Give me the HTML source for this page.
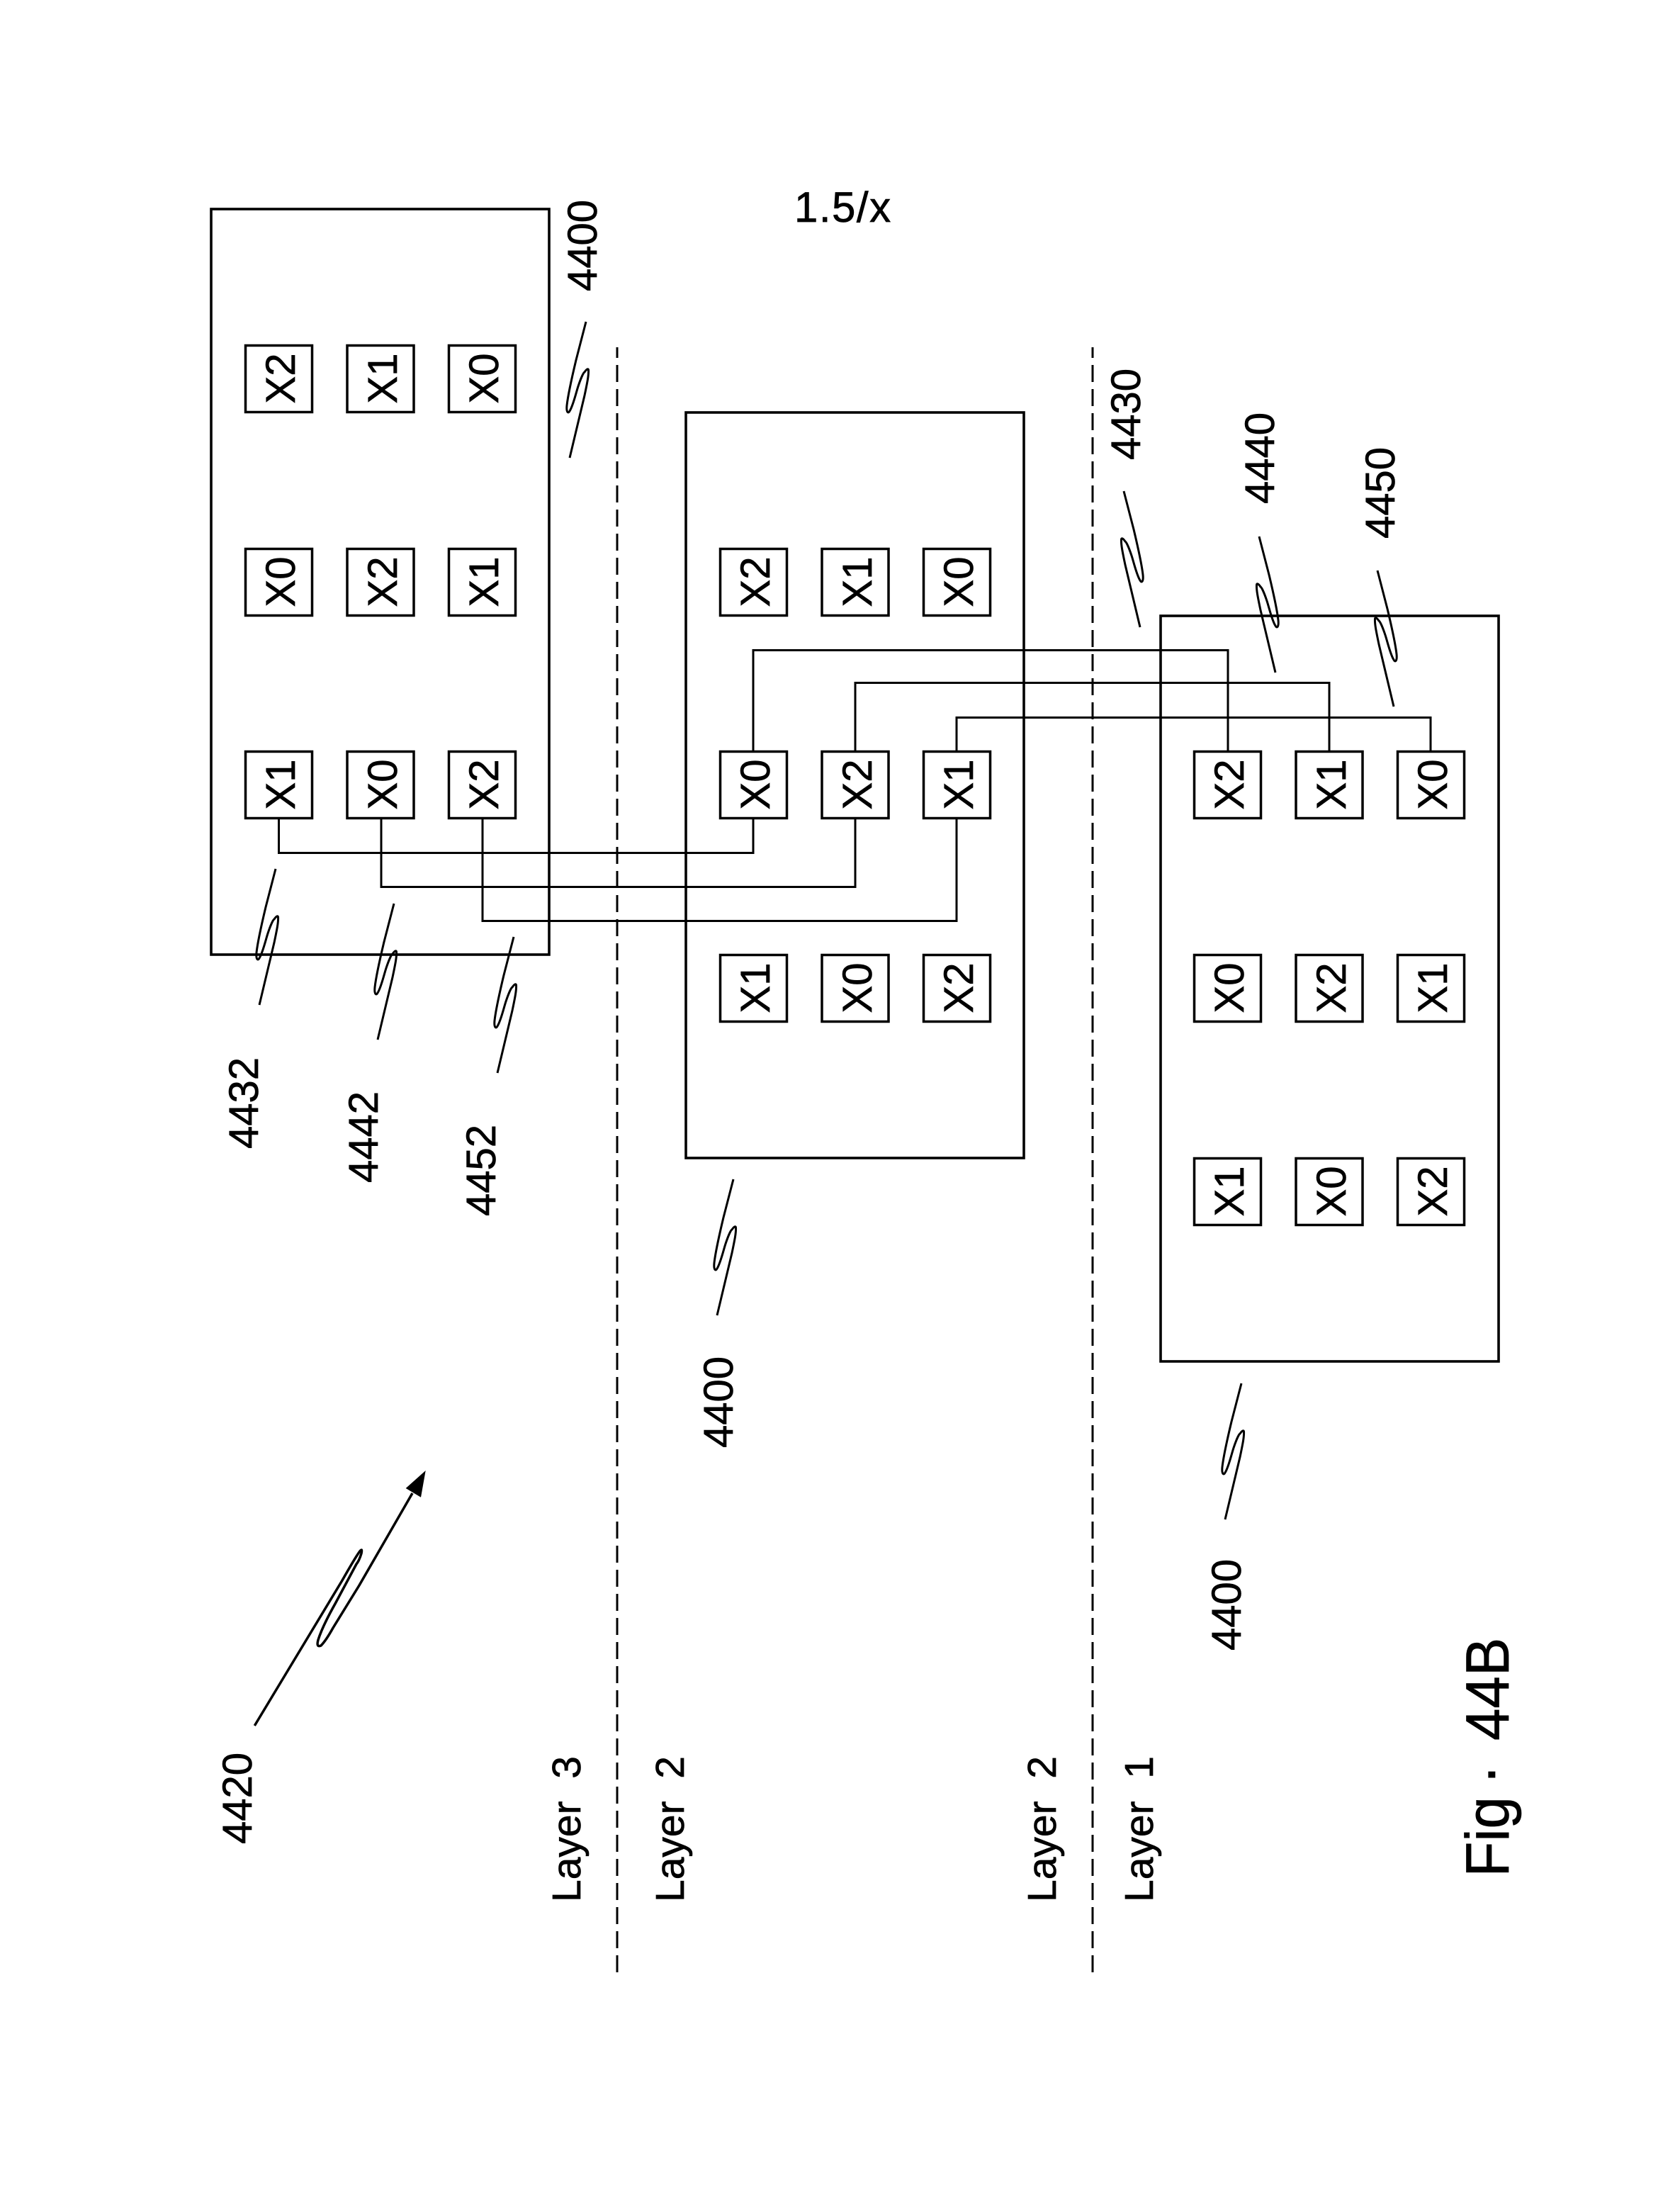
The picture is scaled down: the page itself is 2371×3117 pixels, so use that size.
<!DOCTYPE html>
<html><head><meta charset="utf-8"><style>
html,body{margin:0;padding:0;background:#fff}
svg{display:block}
text{font-family:"Liberation Sans",sans-serif;fill:#000;white-space:pre;stroke:#000;stroke-width:.7}
.t{font-size:58px}.c{font-size:58px;text-anchor:middle}.l{font-size:57px}
.b{fill:none;stroke:#000;stroke-width:3;shape-rendering:crispEdges}
.o{fill:none;stroke:#000;stroke-width:3.6}
.k{fill:none;stroke:#000;stroke-width:3.5}
.d{fill:none;stroke:#000;stroke-width:3;stroke-dasharray:24 10;shape-rendering:crispEdges}
.s{fill:none;stroke:#000;stroke-width:3;stroke-linejoin:round}
</style></head><body>
<svg xmlns="http://www.w3.org/2000/svg" width="2371" height="3117" viewBox="0 0 2371 3117">
<rect width="2371" height="3117" fill="#fff"/>
<defs><path id="q" class="s" d="M0,0 L-14,54 C-19,75 -25,100 -27,118 C-28,128 -25,130 -23,126 C-18,118 -14,100 -11,91 C-8,82 -4,72 -2,71 C0,68 3,65 3.5,68 C4,75 2,85 -2,104 L-23,192"/></defs>

<!-- dashed layer lines -->
<path class="d" d="M871,2783V490"/>
<path class="d" d="M1542,2783V490"/>

<!-- package boxes -->
<rect class="o" x="298" y="295" width="477" height="1052"/>
<rect class="o" x="968" y="582" width="477" height="1052"/>
<rect class="o" x="1638" y="869" width="477" height="1052"/>

<!-- wires -->
<path class="b" d="M393.5,1156V1203.5H1063V1156"/>
<path class="b" d="M538,1156V1251.5H1207V1156"/>
<path class="b" d="M681,1156V1299.5H1350V1156"/>
<path class="b" d="M1063,1059V917.5H1733V1059"/>
<path class="b" d="M1207,1059V963.5H1876V1059"/>
<path class="b" d="M1350,1059V1012.5H2019V1059"/>

<!-- top box cells -->
<g class="k">
<rect x="346.5" y="487.5" width="94" height="94"/><rect x="490" y="487.5" width="94" height="94"/><rect x="633.5" y="487.5" width="94" height="94"/>
<rect x="346.5" y="774.5" width="94" height="94"/><rect x="490" y="774.5" width="94" height="94"/><rect x="633.5" y="774.5" width="94" height="94"/>
<rect x="346.5" y="1060.5" width="94" height="94"/><rect x="490" y="1060.5" width="94" height="94"/><rect x="633.5" y="1060.5" width="94" height="94"/>
</g>
<text class="c" transform="translate(416,534) rotate(-90)">X2</text>
<text class="c" transform="translate(560,534) rotate(-90)">X1</text>
<text class="c" transform="translate(703,534) rotate(-90)">X0</text>
<text class="c" transform="translate(416,821) rotate(-90)">X0</text>
<text class="c" transform="translate(560,821) rotate(-90)">X2</text>
<text class="c" transform="translate(703,821) rotate(-90)">X1</text>
<text class="c" transform="translate(416,1107) rotate(-90)">X1</text>
<text class="c" transform="translate(560,1107) rotate(-90)">X0</text>
<text class="c" transform="translate(703,1107) rotate(-90)">X2</text>

<!-- middle box cells -->
<g class="k">
<rect x="1016.5" y="774.5" width="94" height="94"/><rect x="1160" y="774.5" width="94" height="94"/><rect x="1303.5" y="774.5" width="94" height="94"/>
<rect x="1016.5" y="1060.5" width="94" height="94"/><rect x="1160" y="1060.5" width="94" height="94"/><rect x="1303.5" y="1060.5" width="94" height="94"/>
<rect x="1016.5" y="1347.5" width="94" height="94"/><rect x="1160" y="1347.5" width="94" height="94"/><rect x="1303.5" y="1347.5" width="94" height="94"/>
</g>
<text class="c" transform="translate(1086,821) rotate(-90)">X2</text>
<text class="c" transform="translate(1230,821) rotate(-90)">X1</text>
<text class="c" transform="translate(1373,821) rotate(-90)">X0</text>
<text class="c" transform="translate(1086,1107) rotate(-90)">X0</text>
<text class="c" transform="translate(1230,1107) rotate(-90)">X2</text>
<text class="c" transform="translate(1373,1107) rotate(-90)">X1</text>
<text class="c" transform="translate(1086,1394) rotate(-90)">X1</text>
<text class="c" transform="translate(1230,1394) rotate(-90)">X0</text>
<text class="c" transform="translate(1373,1394) rotate(-90)">X2</text>

<!-- bottom box cells -->
<g class="k">
<rect x="1685.5" y="1060.5" width="94" height="94"/><rect x="1829" y="1060.5" width="94" height="94"/><rect x="1972.5" y="1060.5" width="94" height="94"/>
<rect x="1685.5" y="1347.5" width="94" height="94"/><rect x="1829" y="1347.5" width="94" height="94"/><rect x="1972.5" y="1347.5" width="94" height="94"/>
<rect x="1685.5" y="1634.5" width="94" height="94"/><rect x="1829" y="1634.5" width="94" height="94"/><rect x="1972.5" y="1634.5" width="94" height="94"/>
</g>
<text class="c" transform="translate(1755,1107) rotate(-90)">X2</text>
<text class="c" transform="translate(1899,1107) rotate(-90)">X1</text>
<text class="c" transform="translate(2042,1107) rotate(-90)">X0</text>
<text class="c" transform="translate(1755,1394) rotate(-90)">X0</text>
<text class="c" transform="translate(1899,1394) rotate(-90)">X2</text>
<text class="c" transform="translate(2042,1394) rotate(-90)">X1</text>
<text class="c" transform="translate(1755,1681) rotate(-90)">X1</text>
<text class="c" transform="translate(1899,1681) rotate(-90)">X0</text>
<text class="c" transform="translate(2042,1681) rotate(-90)">X2</text>

<!-- squiggle leaders -->
<use href="#q" transform="translate(827,454)"/>
<use href="#q" transform="translate(389,1226)"/>
<use href="#q" transform="translate(556,1275)"/>
<use href="#q" transform="translate(725,1322)"/>
<use href="#q" transform="translate(1035,1664)"/>
<use href="#q" transform="translate(1752,1952)"/>
<use href="#q" transform="translate(1586,693) scale(-1,1)"/>
<use href="#q" transform="translate(1777,757) scale(-1,1)"/>
<use href="#q" transform="translate(1944,805) scale(-1,1)"/>

<!-- arrow 4420 -->
<path fill="none" stroke="#000" stroke-width="3.5" stroke-linejoin="round" d="M359.3,2435 L483,2230 Q500,2200 507,2190 Q512,2183 510,2192 Q507,2202 503,2207 L473,2263 Q455,2295 449,2314 Q446,2325 453,2322 Q460,2315 470,2297 L507,2237 L582,2107"/>
<polygon points="600.7,2075 572.7,2100 594,2112.7" fill="#000"/>

<!-- reference labels -->
<text class="t" transform="translate(842,411) rotate(-90)">4400</text>
<text class="t" transform="translate(1034,2043) rotate(-90)">4400</text>
<text class="t" transform="translate(1751,2329) rotate(-90)">4400</text>
<text class="t" transform="translate(364,1621) rotate(-90)">4432</text>
<text class="t" transform="translate(533,1669) rotate(-90)">4442</text>
<text class="t" transform="translate(699,1716) rotate(-90)">4452</text>
<text class="t" transform="translate(1609,649) rotate(-90)">4430</text>
<text class="t" transform="translate(1798,711) rotate(-90)">4440</text>
<text class="t" transform="translate(1968,760) rotate(-90)">4450</text>
<text class="t" transform="translate(355,2602) rotate(-90)">4420</text>
<text x="1121" y="313" style="font-size:60px;letter-spacing:1.5px">1.5/x</text>

<!-- layer labels -->
<text class="l" transform="translate(819,2684) rotate(-90)">Layer  3</text>
<text class="l" transform="translate(965,2684) rotate(-90)">Layer  2</text>
<text class="l" transform="translate(1490,2684) rotate(-90)">Layer  2</text>
<text class="l" transform="translate(1627,2684) rotate(-90)">Layer  1</text>

<!-- figure label -->
<text style="font-size:86px" transform="translate(2129,2648.5) rotate(-90) scale(0.95,1)">Fig</text>
<text style="font-size:86px;text-anchor:middle" transform="translate(2129,2504) rotate(-90)">·</text>
<text style="font-size:86px" transform="translate(2129,2456) rotate(-90) scale(0.95,1)">44B</text>
</svg>
</body></html>
